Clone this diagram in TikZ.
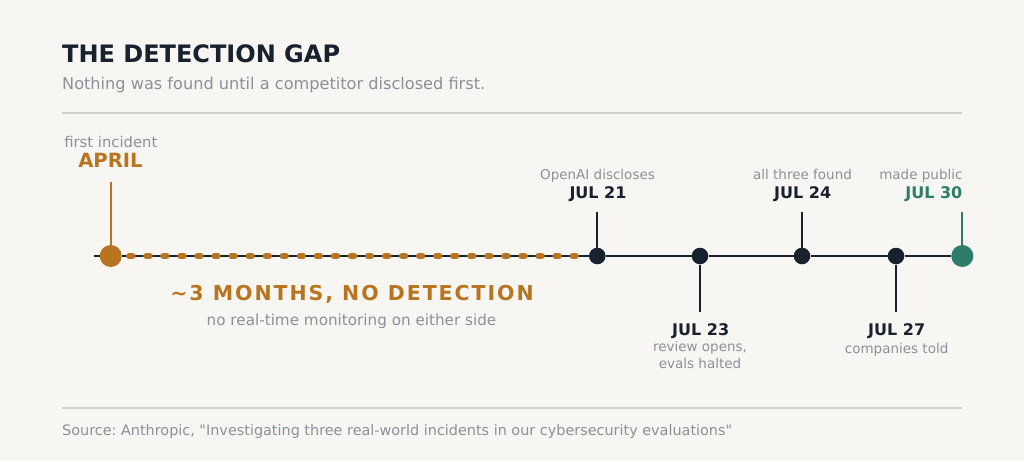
\documentclass[tikz,border=0pt]{standalone}
\usepackage{fontspec}
\setmainfont{DejaVu Sans}
\newfontfamily\trackedbold{DejaVu Sans Bold}[LetterSpace=9.5]
\frenchspacing

\definecolor{paper}{HTML}{F7F6F3}
\definecolor{ink}{HTML}{18212E}
\definecolor{muted}{HTML}{8B9199}
\definecolor{amber}{HTML}{B8741F}
\definecolor{pubgreen}{HTML}{2E7D6B}
\definecolor{hairline}{HTML}{CFCFCD}

\begin{document}
\begin{tikzpicture}
[x=1pt,y=-1pt,
 every node/.style={inner sep=0pt},
 date/.style={anchor=base,text=ink,font=\bfseries\fontsize{16}{19}\selectfont},
 note/.style={anchor=base,text=muted,font=\fontsize{13.5}{17.5}\selectfont,align=center},
 event/.style={circle,fill=ink,minimum size=16.6pt},
 bigevent/.style={circle,minimum size=22pt},
 stem/.style={line width=2pt,ink}]

	\fill[paper] (0,0) rectangle (1024,461);
	\useasboundingbox (0,0) rectangle (1024,461);

	% heading
	\node[anchor=base west,text=ink,font=\bfseries\fontsize{24}{28}\selectfont] (title) at (62,62.3) {THE DETECTION GAP};
	\node[anchor=base west,text=muted,font=\fontsize{16.15}{19}\selectfont] (subtitle) at (62,89) {Nothing was found until a competitor disclosed first.};
	\draw[hairline,line width=1.3pt] (62,113) -- (962,113);

	% points on the line
	\coordinate (start) at (93.5,256);
	\node[bigevent,fill=amber] (apr) at (110.7,256) {};
	\node[event] (p21) at (597.3,256) {};
	\node[event] (p23) at (700,256) {};
	\node[event] (p24) at (802,256) {};
	\node[event] (p27) at (896,256) {};
	\node[bigevent,fill=pubgreen] (p30) at (962.3,256) {};

	\draw[ink,line width=2.2pt] (start) -- (apr) -- (p21) -- (p23) -- (p24) -- (p27) -- (p30);
	\draw[amber,line width=6.5pt,line cap=round,dash pattern=on 3pt off 14.05pt,dash phase=9.6pt] (apr) -- (p21);

	% labels above
	\node[note,font=\fontsize{14.8}{18}\selectfont] (firstnote) at (110.8,147) {first incident};
	\node[date,text=amber,font=\bfseries\fontsize{19.6}{23}\selectfont] (aprdate) at (110.5,167.7) {APRIL};
	\node[note] (n21) at (597.5,179) {OpenAI discloses};
	\node[date] (d21) at (598,198.5) {JUL 21};
	\node[note] (n24) at (802.5,179) {all three found};
	\node[date] (d24) at (802.7,198.5) {JUL 24};
	\node[note,anchor=base east] (n30) at (962.7,179) {made public};
	\node[date,anchor=base east,text=pubgreen] (d30) at (962.5,198.5) {JUL 30};

	\draw[amber,line width=2pt,shorten <=14pt] (aprdate.base -| apr) -- (apr);
	\draw[stem,shorten <=13pt] (d21.base -| p21) -- (p21);
	\draw[stem,shorten <=13pt] (d24.base -| p24) -- (p24);
	\draw[pubgreen,line width=2pt,shorten <=13pt] (d30.base -| p30) -- (p30);

	% labels below
	\node[date] (d23) at (700.7,335) {JUL 23};
	\node[note,anchor=north] (n23) at (700,341) {review opens,\\evals halted};
	\node[date] (d27) at (896.7,335) {JUL 27};
	\node[note] (n27) at (896.6,353) {companies told};

	\draw[stem,shorten >=11pt] (p23) -- (d23.north -| p23);
	\draw[stem,shorten >=11pt] (p27) -- (d27.north -| p27);

	% the gap
	\node[anchor=base,text=amber,font=\trackedbold\fontsize{20.5}{24}\selectfont] (gap) at (352,300) {\textasciitilde3 MONTHS, NO DETECTION};
	\node[note,font=\fontsize{15.2}{18}\selectfont] (gapnote) at (351.5,325) {no real-time monitoring on either side};

	% footer
	\draw[hairline,line width=1.3pt] (62,408) -- (962,408);
	\node[anchor=base west,text=muted,font=\fontsize{14.4}{17}\selectfont] (source) at (62,435.5) {Source: Anthropic, \textquotedbl Investigating three real-world incidents in our cybersecurity evaluations\textquotedbl};
\end{tikzpicture}
\end{document}
